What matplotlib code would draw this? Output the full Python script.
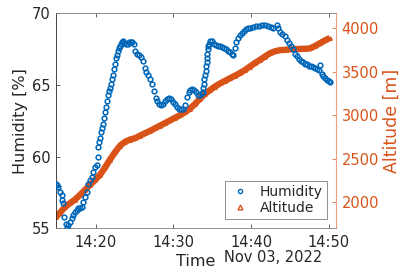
import matplotlib
matplotlib.use("Agg")
import matplotlib.pyplot as plt
import matplotlib.dates as mdates
from matplotlib.lines import Line2D
import pandas as pd
import numpy as np

# ---- data (seconds after 14:00:00 on 2022-11-03) ----
hum_sec = [893, 897, 911, 924, 937, 942, 950, 958, 967, 976, 988, 1001, 1015, 1027, 1040,
           1053, 1066, 1079, 1092, 1104, 1117, 1131, 1143, 1156, 1169, 1181, 1195, 1208,
           1215, 1220, 1225, 1233, 1241, 1249, 1256, 1264, 1272, 1280, 1287, 1295, 1303,
           1310, 1318, 1326, 1334, 1341, 1349, 1357, 1364, 1372, 1380, 1388, 1395, 1403,
           1411, 1422, 1434, 1446, 1457, 1469, 1480, 1492, 1503, 1519, 1534, 1550, 1565,
           1577, 1588, 1604, 1619, 1635, 1650, 1666, 1677, 1689, 1704, 1720, 1735, 1751,
           1766, 1781, 1797, 1812, 1828, 1843, 1859, 1874, 1890, 1903, 1917, 1928, 1944,
           1959, 1975, 1990, 2005, 2019, 2025, 2032, 2036, 2040, 2044, 2048, 2052, 2056,
           2059, 2063, 2067, 2071, 2075, 2083, 2098, 2114, 2129, 2144, 2160, 2175, 2191,
           2206, 2222, 2237, 2252, 2264, 2276, 2287, 2299, 2314, 2330, 2345, 2360, 2376,
           2391, 2415, 2438, 2461, 2484, 2507, 2530, 2554, 2573, 2598, 2608, 2623, 2642,
           2662, 2677, 2693, 2708, 2724, 2739, 2754, 2770, 2785, 2801, 2816, 2832, 2847,
           2863, 2878, 2893, 2909, 2924, 2932, 2944, 2955, 2971, 2986, 3002, 3009]
humidity = [58.1, 58.0, 57.9, 57.55, 57.3, 57.0, 56.75, 55.8, 55.3, 55.0, 55.2, 55.45, 55.7,
            55.95, 56.15, 56.3, 56.4, 56.45, 56.5, 56.85, 57.2, 57.55, 58.1, 58.35, 58.6,
            58.95, 59.3, 59.4, 60.0, 60.7, 61.0, 61.3, 61.7, 62.0, 62.3, 62.7, 63.1, 63.5,
            63.9, 64.3, 64.6, 64.8, 65.1, 65.4, 65.7, 66.1, 66.5, 66.9, 67.1, 67.4, 67.6,
            67.75, 67.9, 68.0, 68.1, 67.95, 67.85, 67.9, 68.0, 68.0, 68.0, 67.9, 67.4, 67.2,
            67.1, 66.95, 66.7, 66.2, 65.9, 65.7, 65.4, 65.05, 64.6, 64.1, 63.9, 63.7, 63.6,
            63.7, 63.9, 64.05, 64.1, 64.0, 63.85, 63.65, 63.5, 63.35, 63.3, 63.35, 63.6,
            64.2, 64.5, 64.65, 64.7, 64.65, 64.5, 64.3, 64.3, 64.45, 64.5, 64.8, 65.1, 65.4,
            65.7, 66.0, 66.3, 66.6, 66.9, 67.2, 67.5, 67.7, 67.9, 68.1, 68.05, 67.9, 67.8,
            67.75, 67.7, 67.65, 67.6, 67.5, 67.4, 67.3, 67.15, 67.1, 67.6, 68.0, 68.3, 68.5,
            68.65, 68.8, 68.9, 69.0, 69.0, 69.05, 69.1, 69.15, 69.2, 69.2, 69.15, 69.05,
            69.0, 69.2, 68.95, 68.7, 68.55, 68.4, 68.15, 67.95, 67.75, 67.5, 67.2, 67.0,
            66.85, 66.7, 66.6, 66.5, 66.45, 66.35, 66.3, 66.25, 66.2, 66.1, 66.05, 66.4,
            65.8, 65.65, 65.5, 65.35, 65.25, 65.2]

alt_sec = [893, 924, 963, 1002, 1040, 1079, 1117, 1156, 1195, 1233, 1272, 1310, 1349, 1388,
           1426, 1465, 1503, 1542, 1581, 1619, 1658, 1697, 1735, 1774, 1812, 1851, 1890,
           1928, 1967, 2005, 2044, 2083, 2121, 2160, 2198, 2237, 2276, 2314, 2353, 2391,
           2430, 2469, 2507, 2546, 2585, 2623, 2662, 2701, 2739, 2778, 2816, 2855, 2893,
           2932, 2971, 3009]
altitude = [1830, 1880, 1945, 1990, 2030, 2085, 2141, 2200, 2256, 2315, 2400, 2490, 2575,
            2650, 2695, 2720, 2736, 2765, 2793, 2820, 2850, 2880, 2910, 2940, 2970, 3000,
            3035, 3075, 3130, 3190, 3245, 3290, 3330, 3365, 3395, 3425, 3455, 3485, 3520,
            3560, 3600, 3636, 3675, 3713, 3735, 3748, 3752, 3757, 3760, 3762, 3764, 3768,
            3795, 3828, 3860, 3888]

x_ticks = ["14:20", "14:30", "14:40", "14:50"]
hum_ticks = [55, 60, 65, 70]
alt_ticks = [2000, 2500, 3000, 3500, 4000]
date_label = "Nov 03, 2022"

BLUE = "#0066B8"
ORANGE = "#D95319"
DARK = "#262626"

base = pd.Timestamp("2022-11-03 14:00:00")
t_hum = base + pd.to_timedelta(hum_sec, unit="s")
t_alt = base + pd.to_timedelta(alt_sec, unit="s")
tick_times = [pd.Timestamp("2022-11-03 " + s) for s in x_ticks]

fig = plt.figure(figsize=(4.0, 2.73), dpi=100)
ax = fig.add_axes([0.14, 0.1637, 0.70, 0.787])
ax2 = ax.twinx()

ax.plot(t_hum, humidity, ls="none", marker="o", ms=3.4, mfc="none", mec=BLUE, mew=1.1,
        zorder=3)
ax2.plot(t_alt, altitude, ls="-", lw=4.6, color=ORANGE, marker="^", ms=2.5,
         mfc=ORANGE, mec=ORANGE, zorder=2, solid_capstyle="butt")
ax.set_zorder(ax2.get_zorder() + 1)
ax.patch.set_visible(False)

ax.set_xlim(base + pd.Timedelta(seconds=893), base + pd.Timedelta(seconds=3056))
ax.set_ylim(55, 70)
ax2.set_ylim(1700, 4170)

ax.set_xticks(tick_times)
ax.xaxis.set_major_formatter(mdates.DateFormatter("%H:%M"))
ax.set_yticks(hum_ticks)
ax2.set_yticks(alt_ticks)

fs = 10.5
ax.tick_params(axis="x", direction="in", length=3, width=0.5, top=True, colors=DARK,
               labelsize=fs, pad=5)
ax.tick_params(axis="y", direction="in", length=3, width=0.5, colors=DARK, labelsize=fs,
               pad=4)
ax2.tick_params(axis="y", direction="in", length=3, width=0.5, colors=ORANGE,
                labelsize=fs, pad=4)

for s in ["top", "bottom"]:
    ax.spines[s].set_color("#7f7f7f")
    ax.spines[s].set_linewidth(0.6)
ax.spines["left"].set_color(DARK)
ax.spines["left"].set_linewidth(0.6)
ax.spines["right"].set_visible(False)
for s in ["top", "bottom", "left"]:
    ax2.spines[s].set_visible(False)
ax2.spines["right"].set_color("#F0A080")
ax2.spines["right"].set_linewidth(0.8)

ax.set_ylabel("Humidity [%]", fontsize=11.5, color=DARK, labelpad=3)
ax2.set_ylabel("Altitude [m]", fontsize=12.5, color=ORANGE, labelpad=3)
ax.set_xlabel("Time", fontsize=11.5, color=DARK, labelpad=3)
fig.text(322 / 400, 1 - 258 / 273, date_label, ha="right", va="center", fontsize=10.5,
         color=DARK)

handles = [Line2D([], [], ls="none", marker="o", ms=3, mfc="none", mec=BLUE, mew=1.0),
           Line2D([], [], ls="none", marker="^", ms=3.5, mfc="none", mec=ORANGE, mew=1.0)]
leg = ax.legend(handles, ["Humidity", "Altitude"], loc="lower right",
                bbox_to_anchor=(0.967, 0.042), fontsize=10, frameon=True, fancybox=False,
                framealpha=1, edgecolor="#7f7f7f", borderpad=0.3, handletextpad=0.6,
                labelspacing=0.15, handlelength=1.6, borderaxespad=0)
leg.get_frame().set_linewidth(0.6)
for txt in leg.get_texts():
    txt.set_color(DARK)

fig.savefig("out.png", dpi=100)
